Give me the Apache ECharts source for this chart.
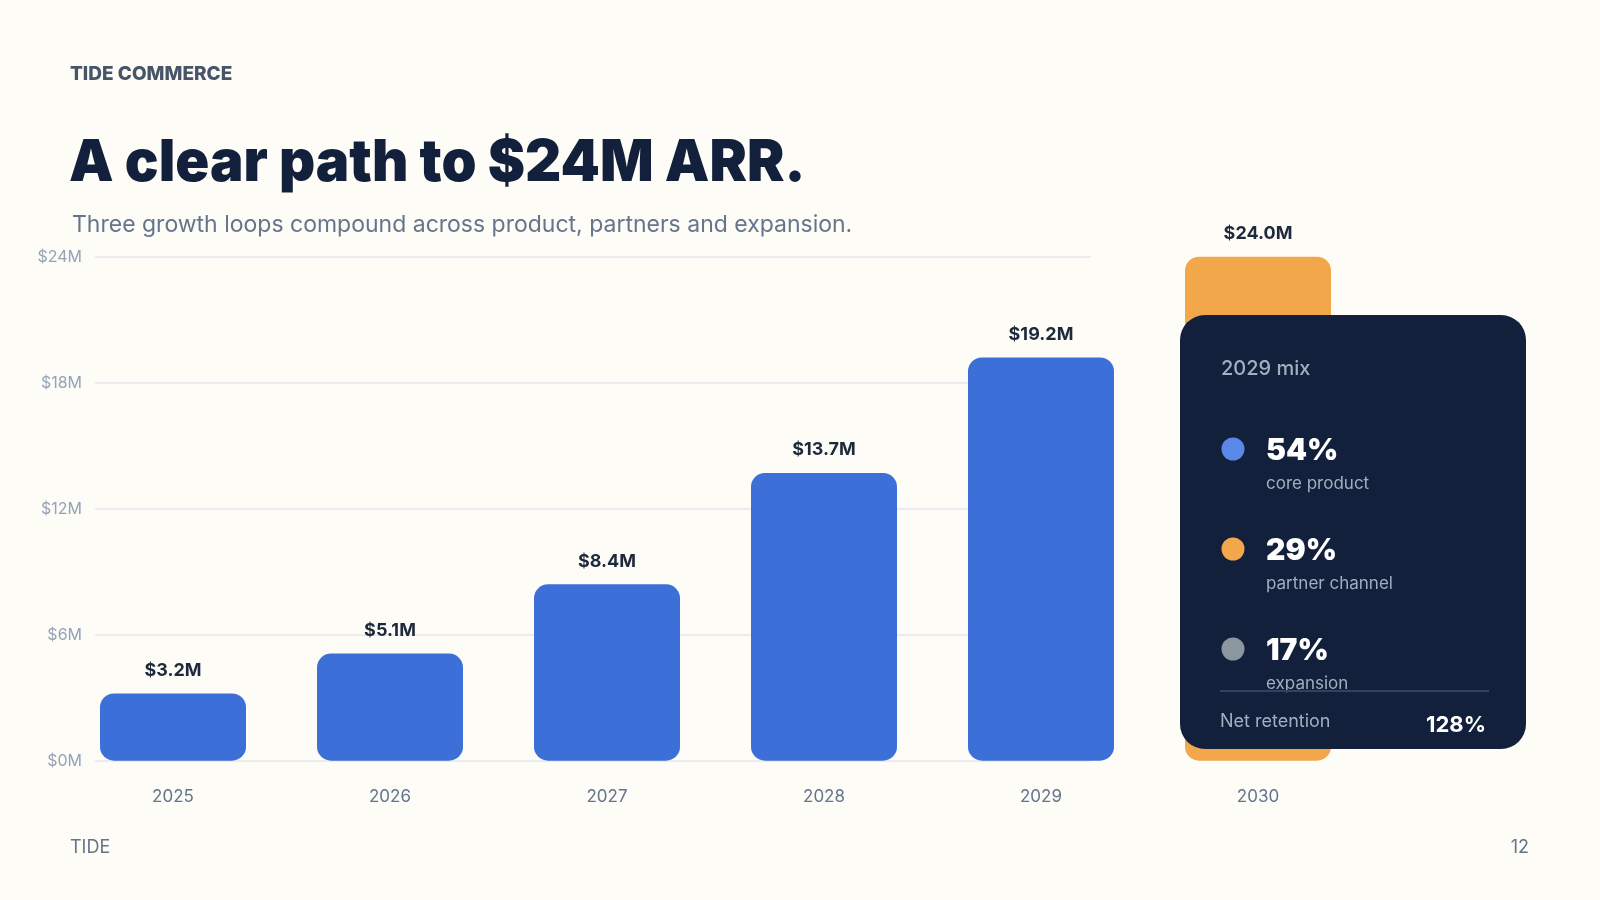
<!DOCTYPE html>
<html>
<head>
<meta charset="utf-8">
<script src="https://cdn.jsdelivr.net/npm/echarts@6/dist/echarts.min.js"></script>
<style>
  html, body { margin: 0; padding: 0; background: #fdfcf7; }
  #chart { width: 1600px; height: 900px; }
</style>
</head>
<body>
<div id="chart"></div>
<script>
// data
var years = ['2025', '2026', '2027', '2028', '2029', '2030'];
var arr = [3.2, 5.1, 8.4, 13.7, 19.2, 24.0];
var yTicks = [0, 6, 12, 18, 24];
var mixYear = '2029';
var mixShare = [54, 29, 17];
var mixNames = ['core product', 'partner channel', 'expansion'];
var netRetention = 128;

var FONT = 'Inter, "Noto Sans", sans-serif';
var blue = '#3d6fd8';
var orange = '#f2a74b';
var mixColors = ['#5b87e8', '#f2a74b', '#8a979f'];
var muted = '#a3aec0';

var chart = echarts.init(document.getElementById('chart'));

function txt(x, y, text, font, fill, align) {
    return {
        type: 'text', x: x, y: y, z: 100,
        style: {
            text: text, font: font, fill: fill,
            textAlign: align || 'left', textVerticalAlign: 'middle',
            align: align || 'left', verticalAlign: 'middle'
        }
    };
}

// right-hand card with 2029 mix
var card = [{
    type: 'rect', shape: { x: 0, y: 0, width: 346, height: 434, r: 25 },
    style: { fill: '#13203b' }, z: 90
}];
card.push(txt(41, 54, mixYear + ' mix', '500 20px ' + FONT, muted));
mixShare.forEach(function (v, i) {
    var cy = 134 + i * 100;
    card.push({
        type: 'circle', shape: { cx: 53, cy: cy, r: 11.5 },
        style: { fill: mixColors[i] }, z: 100
    });
    card.push(txt(86, cy + 2, v + '%', '900 30px ' + FONT, '#ffffff'));
    card.push(txt(86, cy + 35, mixNames[i], '17px ' + FONT, muted));
});
card.push({
    type: 'line', shape: { x1: 40, y1: 376, x2: 309, y2: 376 },
    style: { stroke: '#33415c', lineWidth: 2 }, z: 100
});
card.push(txt(40, 407, 'Net retention', '18px ' + FONT, muted));
card.push(txt(306, 410, netRetention + '%', '700 22px ' + FONT, '#ffffff', 'right'));

// heading is a touch tighter than plain Inter Black
var title = txt(69, 164, 'A clear path to $24M ARR.', '900 58px ' + FONT, '#13203b');
title.scaleX = 0.968;
title.originX = 0;

var option = {
    backgroundColor: '#fdfcf7',
    animation: false,
    textStyle: { fontFamily: FONT },
    grid: [
        { left: 64.5, right: 233.5, top: 256.7, bottom: 139.3 },
        { left: 95, right: 509, top: 256.7, bottom: 139.3 }
    ],
    xAxis: [{
        type: 'category', data: years, gridIndex: 0,
        axisLine: { show: false }, axisTick: { show: false },
        axisLabel: { color: '#64748b', fontSize: 17, margin: 28, fontFamily: FONT }
    }, {
        type: 'value', gridIndex: 1, show: false
    }],
    yAxis: [{
        type: 'value', gridIndex: 0, min: 0, max: 24, interval: 6,
        axisLabel: { show: false }, splitLine: { show: false },
        axisLine: { show: false }, axisTick: { show: false }
    }, {
        type: 'value', gridIndex: 1, min: yTicks[0], max: yTicks[yTicks.length - 1], interval: 6,
        axisLine: { show: false }, axisTick: { show: false },
        axisLabel: {
            color: '#94a3b8', fontSize: 16, margin: 13, fontFamily: FONT,
            formatter: function (v) { return '$' + v + 'M'; }
        },
        splitLine: { lineStyle: { color: '#e3e7ef', width: 1.5 } }
    }],
    series: [{
        type: 'bar', xAxisIndex: 0, yAxisIndex: 0,
        barWidth: 146,
        data: arr.map(function (v, i) {
            return { value: v, itemStyle: { color: i === arr.length - 1 ? orange : blue } };
        }),
        itemStyle: { borderRadius: 14 },
        label: {
            show: true, position: 'top', distance: 14,
            color: '#1e293b', fontSize: 18, fontWeight: 700, fontFamily: FONT,
            formatter: function (p) { return '$' + p.value.toFixed(1) + 'M'; }
        },
        z: 2
    }],
    graphic: [
        txt(70, 74, 'TIDE COMMERCE', '800 19px ' + FONT, '#475569'),
        title,
        txt(72, 225, 'Three growth loops compound across product, partners and expansion.', '23px ' + FONT, '#66758c'),
        txt(70, 848, 'TIDE', '18px ' + FONT, '#64748b'),
        txt(1529, 848, '12', '18px ' + FONT, '#64748b', 'right'),
        { type: 'group', x: 1180, y: 315, z: 90, children: card }
    ]
};
chart.setOption(option);
</script>
</body>
</html>
